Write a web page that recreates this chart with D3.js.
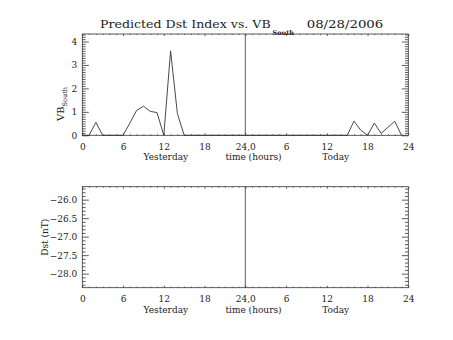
<!DOCTYPE html>
<html>
<head>
<meta charset="utf-8">
<script src="https://cdn.jsdelivr.net/npm/d3@7"></script>
<style>
  html, body { margin: 0; padding: 0; background: #fff; }
  svg text { font-family: "DejaVu Serif", serif; fill: #222; }
</style>
</head>
<body>
<svg id="chart" width="453" height="340"></svg>
<script>
// Hourly VB_South, hour 0 = start of yesterday, hour 47 = 23:00 today
const hours = d3.range(0, 48);
const vbSouth = [
  0, 0, 0.55, 0, 0, 0, 0, 0.52, 1.06, 1.24, 1.02, 0.97,
  0, 3.6, 0.93, 0, 0, 0, 0, 0, 0, 0, 0, 0,
  0, 0, 0, 0, 0, 0, 0, 0, 0, 0, 0, 0,
  0, 0, 0, 0, 0.6, 0.22, 0, 0.52, 0.08, 0.34, 0.6, 0
];
// Predicted Dst: no values available for this period
const dstValues = [];

const xTickValues = [0, 6, 12, 18, 24, 30, 36, 42, 48];
const xTickLabels = ["0", "6", "12", "18", "24,0", "6", "12", "18", "24"];
const vbTicks = [0, 1, 2, 3, 4];
const dstTicks = [-28.0, -27.5, -27.0, -26.5, -26.0];

const titleText = "Predicted Dst Index vs. VB";
const titleSub = "South";
const dateText = "08/28/2006";

const svg = d3.select("#chart");
const ink = "#333";

const x = d3.scaleLinear().domain([0, 48]).range([82.3, 408.3]);
const yVB = d3.scaleLinear().domain([0, 4.32]).range([135.3, 34]);
const yDst = d3.scaleLinear().domain([-28.38, -25.65]).range([287.7, 186.7]);

function panel(y, majors, minorStep, fmt) {
  const [y0, y1] = y.range();
  const [d0, d1] = y.domain();
  const g = svg.append("g");
  const minorY = d3.range(Math.ceil(d0 / minorStep) * minorStep, d1, minorStep)
    .map(v => Math.round(v * 100) / 100)
    .filter(v => !majors.some(m => Math.abs(m - v) < 1e-6));
  const minorX = d3.range(0, 49).filter(h => h % 6 !== 0);

  const addAxis = (axis, tx, ty, labels) => {
    const a = g.append("g").attr("transform", `translate(${tx},${ty})`).call(axis);
    a.select(".domain").remove();
    a.selectAll("line").attr("stroke", ink).attr("stroke-width", 0.8);
    if (!labels) a.selectAll("text").remove();
    return a;
  };

  // x axis, bottom (labelled) and top
  const xb = addAxis(d3.axisBottom(x).tickValues(xTickValues)
      .tickFormat((d, i) => xTickLabels[i]).tickSizeInner(-2).tickSizeOuter(0).tickPadding(8),
    0, y0, true);
  xb.selectAll("text").attr("font-size", 9);
  addAxis(d3.axisBottom(x).tickValues(minorX).tickSizeInner(-1).tickSizeOuter(0), 0, y0, false);
  addAxis(d3.axisTop(x).tickValues(xTickValues).tickSizeInner(-2).tickSizeOuter(0), 0, y1, false);
  addAxis(d3.axisTop(x).tickValues(minorX).tickSizeInner(-1).tickSizeOuter(0), 0, y1, false);

  // y axis, left (labelled) and right
  const yl = addAxis(d3.axisLeft(y).tickValues(majors).tickFormat(fmt)
      .tickSizeInner(-6.5).tickSizeOuter(0).tickPadding(5), x.range()[0], 0, true);
  yl.selectAll("text").attr("font-size", 9);
  addAxis(d3.axisLeft(y).tickValues(minorY).tickSizeInner(-3.3).tickSizeOuter(0), x.range()[0], 0, false);
  addAxis(d3.axisRight(y).tickValues(majors).tickSizeInner(-6.5).tickSizeOuter(0), x.range()[1], 0, false);
  addAxis(d3.axisRight(y).tickValues(minorY).tickSizeInner(-3.3).tickSizeOuter(0), x.range()[1], 0, false);

  // frame
  g.append("rect")
    .attr("x", x.range()[0]).attr("y", y1)
    .attr("width", x.range()[1] - x.range()[0]).attr("height", y0 - y1)
    .attr("fill", "none").attr("stroke", ink).attr("stroke-width", 0.8);

  // day boundary
  g.append("line")
    .attr("x1", x(24)).attr("x2", x(24)).attr("y1", y1).attr("y2", y0)
    .attr("stroke", ink).attr("stroke-width", 0.8);

  // day / axis captions
  const capY = y0 + 25;
  g.append("text").attr("x", x(12.3)).attr("y", capY).attr("text-anchor", "middle")
    .attr("font-size", 9).text("Yesterday");
  g.append("text").attr("x", 253.5).attr("y", capY).attr("text-anchor", "middle")
    .attr("font-size", 9).text("time (hours)");
  g.append("text").attr("x", x(37.3)).attr("y", capY).attr("text-anchor", "middle")
    .attr("font-size", 9).text("Today");
  return g;
}

const vbPanel = panel(yVB, vbTicks, 0.1, d3.format("d"));
const dstPanel = panel(yDst, dstTicks, 0.1, d => d3.format(".1f")(d).replace("-", "\u2212"));

// VB_South curve
vbPanel.append("path")
  .datum(hours.map((h, i) => [h, vbSouth[i]]))
  .attr("fill", "none").attr("stroke", ink).attr("stroke-width", 0.9)
  .attr("d", d3.line().x(d => x(d[0])).y(d => yVB(d[1])));

// Dst curve (empty when no prediction)
dstPanel.append("path")
  .datum(dstValues.map((v, i) => [hours[i], v]))
  .attr("fill", "none").attr("stroke", ink).attr("stroke-width", 0.9)
  .attr("d", d3.line().x(d => x(d[0])).y(d => yDst(d[1])));

// y-axis titles
const vbLabel = svg.append("text")
  .attr("transform", "translate(64,121) rotate(-90)")
  .attr("font-size", 10);
vbLabel.append("tspan").text("VB");
vbLabel.append("tspan").attr("font-size", 6.5).attr("dy", 3).text("South");

svg.append("text")
  .attr("transform", `translate(48,${(yDst.range()[0] + yDst.range()[1]) / 2}) rotate(-90)`)
  .attr("text-anchor", "middle").attr("font-size", 9).text("Dst (nT)");

// title
svg.append("text").attr("x", 100).attr("y", 28.3).attr("font-size", 11)
  .attr("textLength", 170.7).attr("lengthAdjust", "spacingAndGlyphs").text(titleText);
svg.append("text").attr("x", 272.5).attr("y", 35).attr("font-size", 6.5)
  .attr("font-weight", "bold").text(titleSub);
svg.append("text").attr("x", 306.7).attr("y", 28.3).attr("font-size", 11)
  .attr("textLength", 76.6).attr("lengthAdjust", "spacingAndGlyphs").text(dateText);
</script>
</body>
</html>
